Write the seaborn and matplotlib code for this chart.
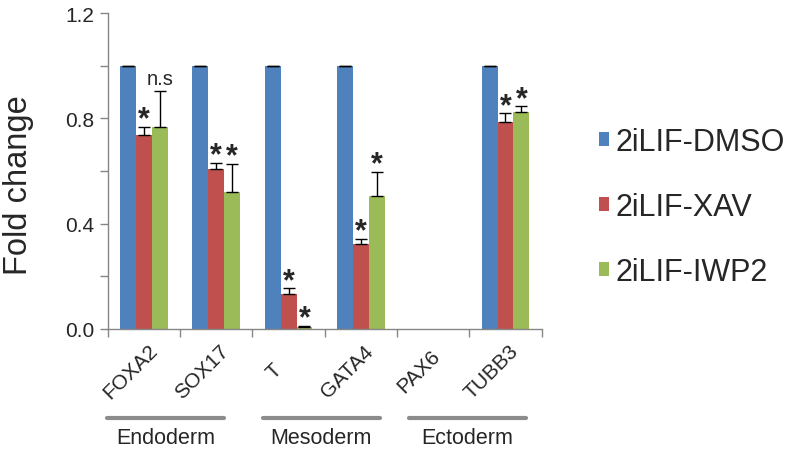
import numpy as np
import pandas as pd
import matplotlib.pyplot as plt
import seaborn as sns
from matplotlib.ticker import MultipleLocator, FixedLocator
from matplotlib.transforms import ScaledTranslation

genes = ["FOXA2", "SOX17", "T", "GATA4", "PAX6", "TUBB3"]
conditions = ["2iLIF-DMSO", "2iLIF-XAV", "2iLIF-IWP2"]

dmso = [1.0, 1.0, 1.0, 1.0, 0.0, 1.0]
xav = [0.737, 0.608, 0.134, 0.322, 0.0, 0.786]
iwp2 = [0.768, 0.521, 0.009, 0.504, 0.0, 0.824]

dmso_err = [0.0, 0.0, 0.0, 0.0, np.nan, 0.0]
xav_err = [0.031, 0.023, 0.021, 0.020, np.nan, 0.034]
iwp2_err = [0.137, 0.106, 0.003, 0.092, np.nan, 0.021]

dmso_marks = ["", "", "", "", "", ""]
xav_marks = ["*", "*", "*", "*", "", "*"]
iwp2_marks = ["n.s", "*", "*", "*", "", "*"]

groups = ["Endoderm", "Mesoderm", "Ectoderm"]
group_spans = [(-0.51, 1.1), (1.64, 3.26), (3.66, 5.28)]

colors = ["#4F81BD", "#C0504D", "#9BBB59"]
axis_gray = "#868686"

df = pd.DataFrame(
    {
        "gene": genes * 3,
        "condition": np.repeat(conditions, len(genes)),
        "value": dmso + xav + iwp2,
    }
)

sns.set_style("white")
plt.rcParams["font.family"] = ["Liberation Sans", "DejaVu Sans"]

fig = plt.figure(figsize=(7.93, 4.52), dpi=100)
ax = fig.add_axes([0.136, 0.270, 0.547, 0.699])

bar_width = 0.66
sns.barplot(
    data=df,
    x="gene",
    y="value",
    hue="condition",
    order=genes,
    hue_order=conditions,
    palette=colors,
    width=bar_width,
    saturation=1,
    errorbar=None,
    linewidth=0,
    ax=ax,
)

# error bars (upper only) and significance marks
series = [(dmso, dmso_err, dmso_marks), (xav, xav_err, xav_marks), (iwp2, iwp2_err, iwp2_marks)]
step = bar_width / len(conditions)
for j, (vals, errs, marks) in enumerate(series):
    for i, gene in enumerate(genes):
        if np.isnan(errs[i]):
            continue
        x = i + (j - 1) * step
        ax.errorbar(
            x, vals[i], yerr=[[0], [errs[i]]],
            fmt="none", ecolor="black", elinewidth=1, capsize=4, capthick=1,
        )
        top = vals[i] + errs[i]
        if marks[i] == "*":
            ax.annotate("*", (x, top), xytext=(0, -0.5), textcoords="offset points",
                        ha="center", va="baseline", fontsize=22, fontweight="bold")
        elif marks[i]:
            ax.annotate(marks[i], (x, top), xytext=(0, 5), textcoords="offset points",
                        ha="center", va="baseline", fontsize=14.5)

ax.set_ylim(0, 1.2)
ax.set_xlim(-0.5, len(genes) - 0.5)
ax.yaxis.set_major_locator(MultipleLocator(0.4))
ax.yaxis.set_minor_locator(MultipleLocator(0.2))
ax.set_yticklabels([f"{v:.1f}" for v in ax.get_yticks()])
ax.xaxis.set_minor_locator(FixedLocator(np.arange(-0.5, len(genes), 1.0)))
ax.tick_params(axis="y", which="both", left=True, length=6, width=1, color=axis_gray,
               labelsize=15, pad=4)
ax.tick_params(axis="x", which="major", bottom=False, labelsize=15, pad=0)
ax.tick_params(axis="x", which="minor", bottom=True, length=6, width=1, color=axis_gray)
ax.set_xticks(range(len(genes)))
ax.set_xticklabels(genes, rotation=45, ha="center", va="center", rotation_mode="anchor")
shift = ScaledTranslation(-0.14, -0.37, fig.dpi_scale_trans)
for lab in ax.get_xticklabels():
    lab.set_transform(lab.get_transform() + shift)

for side in ["top", "right"]:
    ax.spines[side].set_visible(False)
for side in ["left", "bottom"]:
    ax.spines[side].set_color(axis_gray)
    ax.spines[side].set_linewidth(1)

ax.set_xlabel("")
ax.set_ylabel("Fold change", fontsize=23.5, labelpad=22)
ax.yaxis.label.set_y(0.457)

# germ layer brackets
trans = ax.get_xaxis_transform()
for name, (x0, x1) in zip(groups, group_spans):
    ax.plot([x0, x1], [-0.282, -0.282], color="#8C8C8C", lw=3, transform=trans, clip_on=False)
    ax.text((x0 + x1) / 2, -0.310, name, ha="center", va="top", fontsize=15.5, transform=trans)

handles, labels = ax.get_legend_handles_labels()
ax.legend_.remove()
fig.legend(
    handles, labels, loc="center left", bbox_to_anchor=(0.755, 0.54),
    frameon=False, fontsize=22, handlelength=0.34, handleheight=0.34,
    handletextpad=0.22, labelspacing=1.15, borderpad=0, borderaxespad=0,
)

fig.savefig("out.png", dpi=100)
